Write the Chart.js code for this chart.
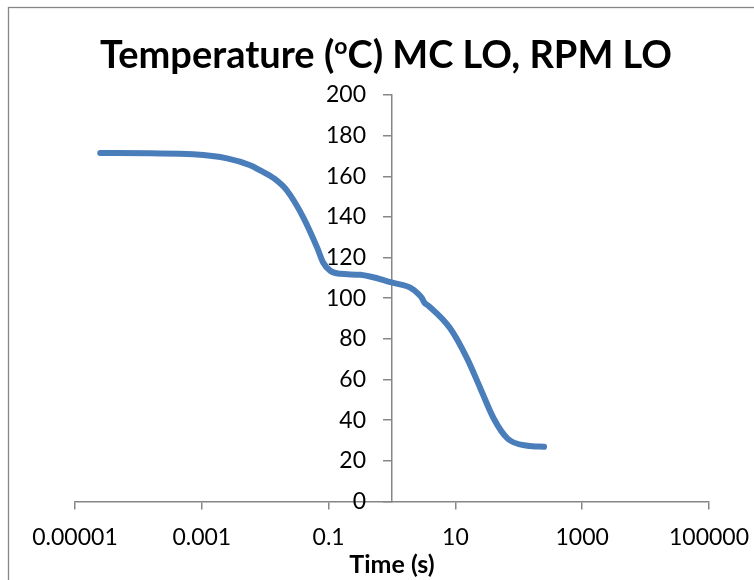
<!DOCTYPE html>
<html>
<head>
<meta charset="utf-8">
<script src="https://cdn.jsdelivr.net/npm/chart.js@4/dist/chart.umd.min.js"></script>
<style>
  html, body { margin: 0; padding: 0; background: #fff; }
  #wrap { width: 754px; height: 580px; }
</style>
</head>
<body>
<div id="wrap"><canvas id="tempChart" width="754" height="580"></canvas></div>
<script>
// values
const timeSec = [2.5e-5, 1.5e-4, 7.3e-4, 0.0025, 0.0058, 0.0083, 0.014, 0.022, 0.040, 0.066,
  0.082, 0.106, 0.152, 0.316, 1.05, 1.94, 2.62, 2.97, 3.24, 3.78, 8.2, 15.2, 24.8, 40.2, 66.6, 137, 250];
const tempC = [171.5, 171.3, 170.8, 168.8, 165.4, 162.9, 158.8, 153.0, 139.7, 124.9,
  117.6, 113.5, 112.0, 111.5, 107.5, 105.2, 102.0, 100.0, 97.8, 96.2, 85.3, 70.5, 55.6, 40.8, 30.9, 27.4, 26.9];
const xTickValues = [0.00001, 0.001, 0.1, 10, 1000, 100000];
const yMin = 0, yMax = 200, yStep = 20;

const axisGray = '#868686';
const lineBlue = '#4A7EBB';

const points = timeSec.map((t, i) => ({ x: t, y: tempC[i] }));

// outer frame, title with superscript o, and y labels pushed left of the crossing axis
const decor = {
  id: 'decor',
  beforeDraw(chart) {
    const ctx = chart.ctx;
    ctx.save();
    ctx.fillStyle = '#fff';
    ctx.fillRect(0, 0, chart.width, chart.height);
    ctx.strokeStyle = axisGray;
    ctx.lineWidth = 1.3;
    ctx.strokeRect(8.5, 7.5, chart.width + 20, chart.height + 20);
    ctx.restore();

    // y axis sits at x = 1, labels need the tick length + a gap on their right
    const items = chart.scales.y.getLabelItems();
    if (!items._shifted) {
      items.forEach(it => { it.options.translation[0] -= 26; });
      items._shifted = true;
    }
  },
  afterDraw(chart) {
    const ctx = chart.ctx;
    const parts = [
      { t: 'Temperature (', f: 'bold 38px Lato', dy: 0 },
      { t: 'o', f: 'bold 23px Lato', dy: -14 },
      { t: 'C) MC LO, RPM LO', f: 'bold 38px Lato', dy: 0 }
    ];
    ctx.save();
    ctx.fillStyle = '#000';
    ctx.textBaseline = 'alphabetic';
    let total = 0;
    parts.forEach(p => { ctx.font = p.f; p.w = ctx.measureText(p.t).width; total += p.w; });
    let x = 386 - total / 2;
    parts.forEach(p => {
      ctx.font = p.f;
      ctx.fillText(p.t, x, 68 + p.dy);
      x += p.w;
    });
    ctx.restore();
  }
};

new Chart(document.getElementById('tempChart'), {
  type: 'scatter',
  data: {
    datasets: [{
      label: 'Temperature',
      data: points,
      showLine: true,
      borderColor: lineBlue,
      backgroundColor: lineBlue,
      borderWidth: 6,
      borderCapStyle: 'round',
      pointRadius: 0,
      cubicInterpolationMode: 'monotone'
    }]
  },
  options: {
    responsive: false,
    animation: false,
    layout: { padding: { top: 95, left: 75, right: 45, bottom: 0 } },
    plugins: { legend: { display: false }, tooltip: { enabled: false }, title: { display: false } },
    scales: {
      x: {
        type: 'logarithmic',
        position: 'bottom',
        min: xTickValues[0],
        max: xTickValues[xTickValues.length - 1],
        afterBuildTicks: s => { s.ticks = xTickValues.map(v => ({ value: v })); },
        afterFit: s => { s.paddingLeft = 0; s.paddingRight = 0; },
        grid: { drawOnChartArea: false, tickLength: 8, color: axisGray, lineWidth: 1.5 },
        border: { color: axisGray, width: 1.5 },
        ticks: {
          autoSkip: false, maxRotation: 0, padding: 14,
          color: '#000', font: { family: 'Lato', size: 23 },
          callback: v => String(v)
        },
        title: {
          display: true, text: 'Time (s)', color: '#000',
          font: { family: 'Lato', size: 25, weight: 'bold' },
          padding: { top: -15, bottom: 0 }
        }
      },
      y: {
        position: { x: 1 },
        min: yMin, max: yMax,
        afterFit: s => { s.paddingTop = 0; s.paddingBottom = 0; },
        grid: { drawOnChartArea: false, tickLength: 8, color: axisGray, lineWidth: 1.5 },
        border: { color: axisGray, width: 1.5 },
        ticks: {
          stepSize: yStep,
          color: '#000', font: { family: 'Lato', size: 23 }
        }
      }
    }
  },
  plugins: [decor]
});
</script>
</body>
</html>
